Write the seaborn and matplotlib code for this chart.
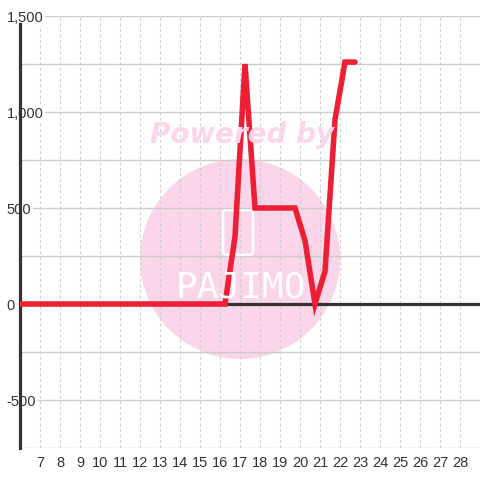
import matplotlib
matplotlib.use("Agg")
import matplotlib.pyplot as plt
from matplotlib.patches import Ellipse, FancyBboxPatch
import pandas as pd
import seaborn as sns

# values
x_vals = [6, 16.25, 16.75, 17.25, 17.75, 18.25, 18.75, 19.25, 19.75,
          20.25, 20.75, 21.25, 21.75, 22.25, 22.75]
y_vals = [0, 0, 350, 1250, 500, 500, 500, 500, 500,
          330, 0, 170, 960, 1260, 1260]
x_ticks = list(range(7, 29))
y_ticks = [-500, 0, 500, 1000, 1500]
y_tick_labels = ["-500", "0", "500", "1,000", "1,500"]

df = pd.DataFrame({"x": x_vals, "y": y_vals})

sns.set_style("white")
plt.rcParams["font.family"] = ["Liberation Sans", "DejaVu Sans"]

fig = plt.figure(figsize=(4.8, 4.8), dpi=100)
ax = fig.add_axes([20 / 480, 32 / 480, 460 / 480, 432 / 480])
ax.set_axisbelow(True)

# watermark
pink = "#fbd5ea"
ax.add_patch(Ellipse((240 / 480, 1 - 259 / 480), 200 / 480, 200 / 480,
                     transform=fig.transFigure, facecolor=pink,
                     edgecolor="none", zorder=0.1))
ax.add_patch(FancyBboxPatch((223 / 480, 1 - 255 / 480), 30 / 480, 45 / 480,
                            boxstyle="round,pad=0,rounding_size=0.006",
                            transform=fig.transFigure, facecolor="none",
                            edgecolor="white", lw=2, zorder=0.2))
fig.text(242 / 480, 1 - 135 / 480, "Powered by", color=pink,
         fontsize=20, fontweight="bold", style="italic",
         family="DejaVu Sans", ha="center", va="center", zorder=0.2)
fig.text(241 / 480, 1 - 288 / 480, "PAJIMO", color="white", fontsize=26,
         family="DejaVu Sans Mono", ha="center", va="center", zorder=0.2)

# grid
for yv in range(-750, 1501, 250):
    ax.axhline(yv, color="#cccccc", lw=1, zorder=0.3)
for xv in range(7, 29):
    ax.axvline(xv, color="#cdcdcd", lw=0.8, ls=(0, (2.5, 2.5)), zorder=0.3)
ax.axhline(0, color="#333333", lw=2.3, zorder=1)

sns.lineplot(data=df, x="x", y="y", ax=ax, color="#ee1f35", lw=4,
             zorder=3, solid_joinstyle="miter")

ax.set_xlim(6, 29)
ax.set_ylim(-750, 1500)
ax.set_xticks(x_ticks)
ax.set_xticklabels([str(t) for t in x_ticks])
ax.set_yticks(y_ticks)
ax.set_yticklabels(y_tick_labels)
ax.set_xlabel("")
ax.set_ylabel("")

for s in ["top", "right", "bottom"]:
    ax.spines[s].set_visible(False)
ax.spines["left"].set_color("#333333")
ax.spines["left"].set_linewidth(2.3)
ax.spines["left"].set_bounds(-750, 1460)
ax.spines["left"].set_zorder(2)

ax.tick_params(axis="both", length=0, labelsize=10.5, labelcolor="#333333")
ax.tick_params(axis="x", pad=6)
ax.tick_params(axis="y", pad=9.5)
for lab in ax.get_yticklabels():
    lab.set_horizontalalignment("left")
    lab.set_bbox(dict(facecolor="white", edgecolor="none", pad=1))
    lab.set_zorder(4)

fig.savefig("out.png", dpi=100, facecolor="white")
